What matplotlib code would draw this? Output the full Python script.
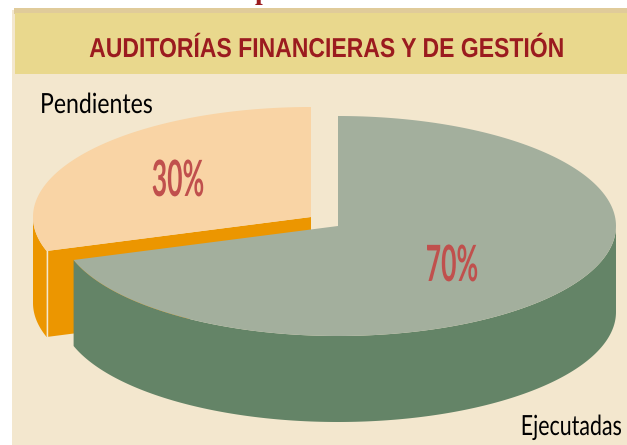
import numpy as np
import matplotlib
matplotlib.use('Agg')
import matplotlib.pyplot as plt
from matplotlib.patches import Polygon, Rectangle
from matplotlib.patheffects import AbstractPathEffect
from matplotlib.transforms import Affine2D

title = 'AUDITORÍAS FINANCIERAS Y DE GESTIÓN'
labels = ['Ejecutadas', 'Pendientes']
shares = [70, 30]
pct_labels = ['70%', '30%']

# pie geometry, in pixels
rx, ry = 278, 110
depth = 86
green_c = (338, 226)
peach_c = (311, 217)


class Squeeze(AbstractPathEffect):
    # no condensed font installed, so narrow the glyphs around x
    def __init__(self, sx, x):
        super().__init__()
        self.sx = sx
        self.x = x

    def draw_path(self, renderer, gc, tpath, affine, rgbFace=None):
        t = affine + Affine2D().translate(-self.x, 0).scale(self.sx, 1).translate(self.x, 0)
        renderer.draw_path(gc, tpath, t, rgbFace)


def arc(center, a0, a1, dy=0):
    # angles in degrees, clockwise from the top
    t = np.radians(np.linspace(a0, a1, 200))
    return np.column_stack([center[0] + rx * np.sin(t), center[1] + dy - ry * np.cos(t)])


def squeezed(x, y, s, sx, **kw):
    ax.text(x, y, s, path_effects=[Squeeze(sx, x)], **kw)


fig = plt.figure(figsize=(6.27, 4.45), dpi=100)
ax = fig.add_axes([0, 0, 1, 1])
ax.set_xlim(0, 627)
ax.set_ylim(445, 0)
ax.axis('off')

# background
ax.add_patch(Rectangle((12, 10), 615, 435, color='#F3E7CE', lw=0))
ax.add_patch(Rectangle((14, 8), 613, 6, color='#E0CB9A', lw=0))
ax.add_patch(Rectangle((15, 13), 612, 61, color='#E9D88D', lw=0))
ax.text(262, -1, 'p', color='#9B1B1F', fontsize=20, family='Liberation Serif', weight='bold',
        ha='center', va='baseline')

end = shares[0] / sum(shares) * 360

# pendientes slice: walls first
wall = np.vstack([arc(peach_c, end, 270), arc(peach_c, 270, end, depth)])
ax.add_patch(Polygon(wall, color='#EC9600', lw=0))
p0 = arc(peach_c, end, end)[0]
cut = [peach_c, p0, (p0[0], p0[1] + depth), (peach_c[0], peach_c[1] + depth)]
ax.add_patch(Polygon(cut, color='#EC9600', lw=0))
ax.plot([p0[0], p0[0]], [p0[1], p0[1] + depth], color='#F3E7CE', lw=1)
ax.add_patch(Polygon(np.vstack([[peach_c], arc(peach_c, end, 360)]), color='#F9D4A5', lw=0))

# ejecutadas slice
wall = np.vstack([arc(green_c, 90, end), arc(green_c, end, 90, depth)])
ax.add_patch(Polygon(wall, color='#648467', lw=0))
ax.add_patch(Polygon(np.vstack([[green_c], arc(green_c, 0, end)]), color='#A3AF9D', lw=0))

# text
squeezed(327, 57, title, 0.84, color='#9B1B1F', fontsize=19.7, ha='center', va='baseline',
         family='Liberation Sans', weight='bold')
squeezed(40, 113, labels[1], 0.83, color='black', fontsize=20, ha='left', va='baseline', family='Lato')
squeezed(622, 435, labels[0], 0.77, color='black', fontsize=20, ha='right', va='baseline', family='Lato')
squeezed(178, 196, pct_labels[1], 0.53, color='#C0504D', fontsize=36, ha='center', va='baseline',
         family='Lato', weight='bold')
squeezed(452, 281, pct_labels[0], 0.53, color='#C0504D', fontsize=36, ha='center', va='baseline',
         family='Lato', weight='bold')

fig.savefig('out.png', dpi=100)
